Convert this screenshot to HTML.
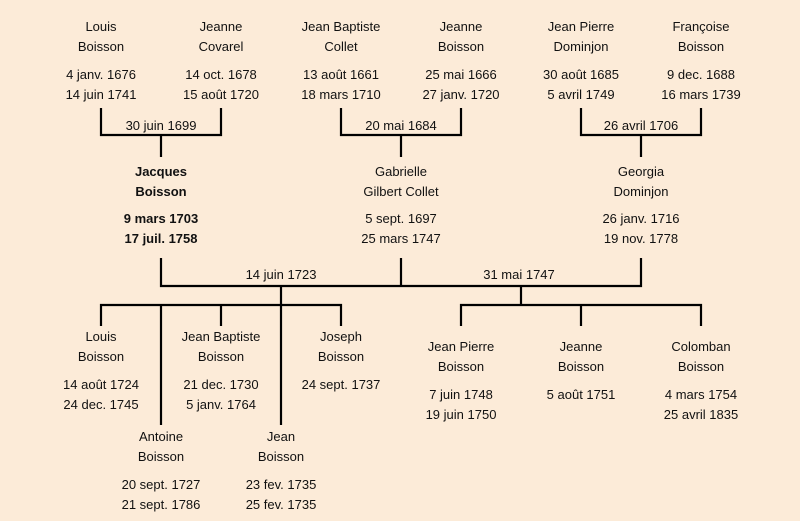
<!DOCTYPE html>
<html><head><meta charset="utf-8"><style>
body{margin:0;width:800px;height:521px;background:#FCEBD8;position:relative;overflow:hidden;font-family:"Liberation Sans",sans-serif;font-size:13px;color:#111}
.t{position:absolute;width:140px;text-align:center;line-height:20px;white-space:nowrap}
.b{font-weight:bold}
svg{position:absolute;left:0;top:0}
</style></head><body>
<svg width="800" height="521"><g stroke="#000" stroke-width="2.2" fill="none">
<path d="M101 108V135H221V108M161 135V157"/>
<path d="M341 108V135H461V108M401 135V157"/>
<path d="M581 108V135H701V108M641 135V157"/>
<path d="M161 258V286H641V258M401 258V286"/>
<path d="M281 286V305M101 326V305H341V326M221 305V326M161 305V425M281 305V425"/>
<path d="M521 286V305M461 326V305H701V326M581 305V326"/>
</g>
<g font-family="Liberation Sans, sans-serif" font-size="13" text-anchor="middle" fill="#111">
<text x="161" y="130">30 juin 1699</text>
<text x="401" y="130">20 mai 1684</text>
<text x="641" y="130">26 avril 1706</text>
<text x="281" y="279">14 juin 1723</text>
<text x="519" y="279">31 mai 1747</text>
</g></svg>

<div class="t" style="left:31px;top:17px">Louis<br>Boisson</div>
<div class="t" style="left:31px;top:65px">4 janv. 1676<br>14 juin 1741</div>
<div class="t" style="left:151px;top:17px">Jeanne<br>Covarel</div>
<div class="t" style="left:151px;top:65px">14 oct. 1678<br>15 août 1720</div>
<div class="t" style="left:271px;top:17px">Jean Baptiste<br>Collet</div>
<div class="t" style="left:271px;top:65px">13 août 1661<br>18 mars 1710</div>
<div class="t" style="left:391px;top:17px">Jeanne<br>Boisson</div>
<div class="t" style="left:391px;top:65px">25 mai 1666<br>27 janv. 1720</div>
<div class="t" style="left:511px;top:17px">Jean Pierre<br>Dominjon</div>
<div class="t" style="left:511px;top:65px">30 août 1685<br>5 avril 1749</div>
<div class="t" style="left:631px;top:17px">Françoise<br>Boisson</div>
<div class="t" style="left:631px;top:65px">9 dec. 1688<br>16 mars 1739</div>

<div class="t b" style="left:91px;top:162px">Jacques<br>Boisson</div>
<div class="t b" style="left:91px;top:209px">9 mars 1703<br>17 juil. 1758</div>
<div class="t" style="left:331px;top:162px">Gabrielle<br>Gilbert Collet</div>
<div class="t" style="left:331px;top:209px">5 sept. 1697<br>25 mars 1747</div>
<div class="t" style="left:571px;top:162px">Georgia<br>Dominjon</div>
<div class="t" style="left:571px;top:209px">26 janv. 1716<br>19 nov. 1778</div>

<div class="t" style="left:31px;top:327px">Louis<br>Boisson</div>
<div class="t" style="left:31px;top:375px">14 août 1724<br>24 dec. 1745</div>
<div class="t" style="left:151px;top:327px">Jean Baptiste<br>Boisson</div>
<div class="t" style="left:151px;top:375px">21 dec. 1730<br>5 janv. 1764</div>
<div class="t" style="left:271px;top:327px">Joseph<br>Boisson</div>
<div class="t" style="left:271px;top:375px">24 sept. 1737</div>
<div class="t" style="left:91px;top:427px">Antoine<br>Boisson</div>
<div class="t" style="left:91px;top:475px">20 sept. 1727<br>21 sept. 1786</div>
<div class="t" style="left:211px;top:427px">Jean<br>Boisson</div>
<div class="t" style="left:211px;top:475px">23 fev. 1735<br>25 fev. 1735</div>

<div class="t" style="left:391px;top:337px">Jean Pierre<br>Boisson</div>
<div class="t" style="left:391px;top:385px">7 juin 1748<br>19 juin 1750</div>
<div class="t" style="left:511px;top:337px">Jeanne<br>Boisson</div>
<div class="t" style="left:511px;top:385px">5 août 1751</div>
<div class="t" style="left:631px;top:337px">Colomban<br>Boisson</div>
<div class="t" style="left:631px;top:385px">4 mars 1754<br>25 avril 1835</div>
</body></html>
